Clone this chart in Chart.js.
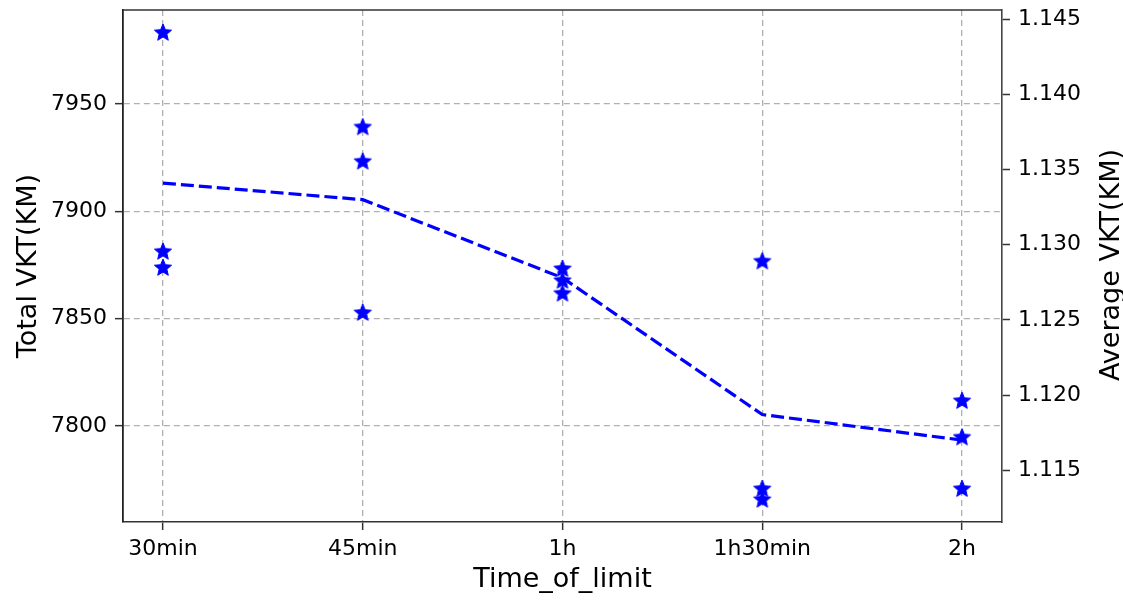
<!DOCTYPE html>
<html>
<head>
  <meta charset="UTF-8">
  <title>Total VKT vs Time_of_limit</title>
  <script src="https://cdn.jsdelivr.net/npm/chart.js"></script>
  <style>
    body { margin: 0; background: #fff; }
    #wrap { width: 1123px; height: 601px; }
  </style>
</head>
<body>
  <div id="wrap"><canvas id="vkt"></canvas></div>

  <script>
    // data
    const categories = ['30min', '45min', '1h', '1h30min', '2h'];
    const totalRunA = [7983.5, 7939.5, 7873.5, 7877, 7812];
    const totalRunB = [7881.5, 7923.5, 7868, 7771, 7795];
    const totalRunC = [7874, 7853, 7862, 7766, 7771];
    const avgVKT = [1.1341, 1.1330, 1.1278, 1.1187, 1.1170];
    const leftTicks = [7800, 7850, 7900, 7950];
    const rightTicks = [1.115, 1.120, 1.125, 1.130, 1.135, 1.140, 1.145];

    Chart.defaults.font.family = "'DejaVu Sans', sans-serif";
    Chart.defaults.color = '#000';

    // filled 5 point star, like matplotlib's '*' marker
    function makeStar(r, color) {
      const c = document.createElement('canvas');
      const s = Math.ceil(r * 2 + 2);
      c.width = s; c.height = s;
      const g = c.getContext('2d');
      g.translate(s / 2, s / 2 + 1);
      g.beginPath();
      for (let i = 0; i < 10; i++) {
        const rr = i % 2 === 0 ? r : r * 0.45;
        const a = -Math.PI / 2 + i * Math.PI / 5;
        g.lineTo(rr * Math.cos(a), rr * Math.sin(a));
      }
      g.closePath();
      g.fillStyle = color;
      g.fill();
      g.strokeStyle = color;
      g.lineWidth = 1;
      g.stroke();
      return c;
    }
    const star = makeStar(9, '#0000ff');

    const pts = arr => arr.map((v, i) => ({ x: i, y: v }));
    const starSet = arr => ({
      type: 'scatter',
      data: pts(arr),
      yAxisID: 'y',
      pointStyle: star,
      pointRadius: 9,
      showLine: false,
      order: 0
    });

    const frame = {
      id: 'frame',
      afterDraw(chart) {
        const { ctx, chartArea: a } = chart;
        ctx.save();
        ctx.strokeStyle = '#333';
        ctx.lineWidth = 1.6;
        ctx.beginPath();
        ctx.moveTo(a.left, a.top);
        ctx.lineTo(a.right, a.top);
        ctx.stroke();
        // right axis title reads bottom to top
        ctx.translate(1112, 265);
        ctx.rotate(-Math.PI / 2);
        ctx.font = "27px 'DejaVu Sans'";
        ctx.fillStyle = '#000';
        ctx.textAlign = 'center';
        ctx.textBaseline = 'middle';
        ctx.fillText('Average VKT(KM)', 0, 0);
        ctx.restore();
      }
    };

    const gridDash = [6, 4];
    const noPad = ax => { ax.paddingTop = 0; ax.paddingBottom = 0; ax.paddingLeft = 0; ax.paddingRight = 0; };

    new Chart(document.getElementById('vkt'), {
      type: 'scatter',
      data: {
        datasets: [
          starSet(totalRunA),
          starSet(totalRunB),
          starSet(totalRunC),
          {
            type: 'line',
            data: pts(avgVKT),
            yAxisID: 'y2',
            borderColor: '#0000ff',
            borderWidth: 3.2,
            borderDash: [13, 5],
            pointRadius: 0,
            fill: false,
            tension: 0,
            order: 1
          }
        ]
      },
      options: {
        responsive: true,
        maintainAspectRatio: false,
        animation: false,
        layout: { padding: { top: 9, left: 0, right: 0, bottom: 0 } },
        plugins: { legend: { display: false }, tooltip: { enabled: false } },
        scales: {
          x: {
            type: 'linear',
            min: -0.2,
            max: 4.2,
            afterBuildTicks: ax => { ax.ticks = categories.map((c, i) => ({ value: i })); },
            afterFit: ax => { ax.height = 79; noPad(ax); },
            ticks: {
              font: { size: 22 },
              padding: 6,
              maxRotation: 0,
              callback: v => categories[v]
            },
            grid: {
              color: '#b0b0b0',
              lineWidth: 1.3,
              tickColor: '#333',
              tickLength: 8,
              tickWidth: 1.5,
              tickBorderDash: []
            },
            border: { color: '#333', width: 1.6, dash: gridDash },
            title: { display: true, text: 'Time_of_limit', font: { size: 27 }, padding: { top: 0, bottom: 5 } }
          },
          y: {
            position: 'left',
            min: 7755.2,
            max: 7993.7,
            afterBuildTicks: ax => { ax.ticks = leftTicks.map(v => ({ value: v })); },
            afterFit: ax => { ax.width = 123; noPad(ax); },
            ticks: { font: { size: 22 }, padding: 8, callback: v => String(v) },
            grid: {
              color: '#b0b0b0',
              lineWidth: 1.3,
              tickColor: '#333',
              tickLength: 8,
              tickWidth: 1.5,
              tickBorderDash: []
            },
            border: { color: '#222', width: 1.8, dash: gridDash },
            title: { display: true, text: 'Total VKT(KM)', font: { size: 27 }, padding: { top: 13, bottom: 0 } }
          },
          y2: {
            position: 'right',
            min: 1.11155,
            max: 1.14562,
            afterBuildTicks: ax => { ax.ticks = rightTicks.map(v => ({ value: v })); },
            afterFit: ax => { ax.width = 121; noPad(ax); },
            ticks: { font: { size: 22 }, padding: 8, callback: v => v.toFixed(3) },
            grid: {
              drawOnChartArea: false,
              tickColor: '#333',
              tickLength: 8,
              tickWidth: 1.5,
              tickBorderDash: []
            },
            border: { color: '#444', width: 1.6 }
          }
        }
      },
      plugins: [frame]
    });
  </script>
</body>
</html>
